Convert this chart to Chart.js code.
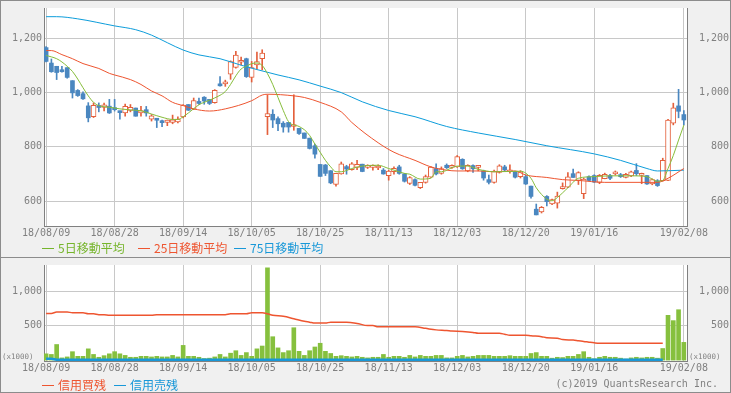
<!DOCTYPE html>
<html lang="ja">
<head>
<meta charset="utf-8">
<script src="https://cdn.jsdelivr.net/npm/chart.js@4.4.1/dist/chart.umd.min.js"></script>
<style>
  body { margin: 0; }
  #wrap { position: relative; width: 731px; height: 393px; background: #f0f0f0; overflow: hidden; }
  #wrap canvas { position: absolute; left: 0; }
  #frame { position: absolute; left: 0; top: 0; width: 731px; height: 393px; box-sizing: border-box; border: 1px solid #8c8c8c; pointer-events: none; }
  .sep { position: absolute; left: 0; top: 257px; width: 731px; height: 1px; background: #8c8c8c; }
  .lg { position: absolute; font: 12px/14px "Noto Sans CJK JP", sans-serif; white-space: nowrap; }
  .lg i { display: inline-block; width: 12px; height: 0; border-top: 1px solid currentColor; vertical-align: middle; margin-right: 4px; position: relative; top: -1px; }
  .mono { position: absolute; font: 10px/12px "DejaVu Sans Mono", monospace; color: #808080; white-space: nowrap; }
  .unit { position: absolute; font: 7.5px/9px "DejaVu Sans Mono", monospace; color: #808080; white-space: nowrap; }
</style>
</head>
<body>
<div id="wrap">
  <canvas id="priceChart" width="731" height="257" style="top:0"></canvas>
  <canvas id="volChart" width="731" height="135" style="top:257px"></canvas>
  <div class="sep"></div>

  <div class="lg" style="left:42px; top:241px; color:#76b52c"><i></i>5日移動平均</div>
  <div class="lg" style="left:138px; top:241px; color:#ee5530"><i></i>25日移動平均</div>
  <div class="lg" style="left:234px; top:241px; color:#1898d8"><i></i>75日移動平均</div>

  <div class="unit" style="left:2px; top:352px">(x1000)</div>
  <div class="unit" style="left:689px; top:352px">(x1000)</div>

  <div class="lg" style="left:42px; top:378px; color:#ee5530"><i></i>信用買残</div>
  <div class="lg" style="left:114px; top:378px; color:#1898d8"><i></i>信用売残</div>
  <div class="mono" style="right:13px; top:378px">(c)2019 QuantsResearch Inc.</div>

  <div id="frame"></div>
</div>
<script>
// 日付軸（営業日の通し番号）
const tickIndex = [0, 13, 26, 39, 52, 65, 78, 91, 104, 121];
const tickLabels = ['18/08/09', '18/08/28', '18/09/14', '18/10/05', '18/10/25',
                    '18/11/13', '18/12/03', '18/12/20', '19/01/16', '19/02/08'];
const priceTicks = [600, 800, 1000, 1200];
const volumeTicks = [500, 1000];

// ローソク足
const opens = [
  1166,1109,1097,1084,1092,1044,1008,996,951,911,
  948,945,950,941,929,925,934,943,925,937,
  902,900,891,890,890,892,910,956,939,966,
  983,975,963,1029,1032,1068,1093,1112,1125,1056,
  1102,1125,911,920,904,887,890,875,868,851,
  832,804,735,733,712,661,700,727,716,724,
  736,724,724,722,714,694,708,726,700,665,
  679,649,669,688,720,702,732,724,726,754,
  711,731,724,711,679,669,706,726,708,708,
  690,690,655,570,560,617,589,592,646,651,
  701,676,627,690,694,669,683,694,700,696,
  687,693,713,695,694,663,675,675,676,887,
  951,919
];
const highs = [
  1170,1124,1097,1097,1092,1044,1011,1003,963,962,
  962,961,975,975,932,958,956,943,949,949,
  919,905,899,899,917,911,956,956,980,980,
  985,975,1011,1059,1046,1117,1152,1131,1127,1115,
  1149,1158,992,937,911,893,890,992,868,851,
  832,810,735,735,712,702,744,732,742,750,
  736,734,734,734,720,714,726,732,702,690,
  682,669,696,727,737,726,737,734,768,756,
  734,734,731,714,696,714,734,732,734,710,
  712,696,655,589,580,620,607,633,667,705,
  718,708,684,693,697,698,703,699,711,702,
  702,711,738,703,694,682,679,758,901,961,
  1012,934
];
const lows = [
  1113,1075,1048,1075,1053,980,986,975,892,908,
  929,932,923,932,902,913,929,913,913,913,
  895,871,874,878,885,888,907,934,937,956,
  957,956,961,1024,1023,1049,1090,1102,1056,1039,
  1086,1084,845,871,860,854,854,861,846,831,
  792,758,691,694,664,655,699,699,714,716,
  708,720,714,716,699,677,699,699,670,661,
  656,646,666,687,696,699,720,720,724,717,
  708,706,711,677,663,666,703,711,703,685,
  685,661,611,549,556,582,587,574,644,649,
  687,661,609,674,668,664,682,679,696,687,
  685,690,694,664,661,660,654,673,675,881,
  907,881
];
const closes = [
  1115,1077,1074,1077,1056,999,989,977,907,953,
  945,955,925,937,926,949,946,913,934,925,
  914,898,889,899,900,902,954,935,971,960,
  969,960,1008,1025,1040,1114,1138,1119,1059,1092,
  1114,1146,923,899,885,873,873,880,849,831,
  794,773,691,702,667,702,737,718,737,735,
  709,731,728,728,700,711,721,702,673,687,
  658,669,690,725,700,720,723,731,764,719,
  732,719,728,685,669,711,730,715,714,688,
  708,663,617,549,577,598,605,618,653,689,
  687,705,681,676,670,695,699,684,706,690,
  699,708,701,700,663,679,657,750,899,944,
  931,899
];

// 移動平均（図から読み取った点）
const ma5Idx = [0,2,3,4,5,6,7,8,9,10,12,14,16,18,20,22,24,25,26,27,29,31,33,34,35,36,37,38,39,40,
  41,42,43,44,45,46,48,49,50,51,52,53,54,55,56,58,60,63,65,66,68,69,71,73,74,75,78,80,82,85,
  90,92,93,95,96,97,99,101,104,107,111,114,116,117,118,119,120,121];
const ma5Val = [1137,1125,1113,1097,1078,1050,1018,988,964,952,946,940,936,933,921,909,901,901,911,925,
  955,972,990,1004,1030,1062,1087,1097,1107,1109,1100,1070,1030,982,934,893,875,863,842,810,
  780,750,726,708,708,720,729,732,720,714,702,699,681,684,708,708,729,729,717,708,
  710,684,649,607,601,613,649,684,690,693,693,690,673,676,720,768,825,880];
const ma25Idx = [0,1,3,5,7,10,12,13,16,18,20,22,24,26,28,31,34,39,41,42,47,49,52,56,58,63,66,70,73,76,
  78,82,85,89,91,95,98,101,106,116,118,121];
const ma25Val = [1155,1155,1140,1125,1107,1089,1071,1065,1048,1030,1006,988,964,952,940,932,940,970,991,994,
  988,982,964,929,890,815,780,750,726,714,711,711,708,711,696,687,679,676,669,669,684,720];
const ma75Idx = [0,2,6,13,17,20,23,26,29,33,37,40,44,48,52,56,60,65,70,76,82,89,95,104,109,114,116,121];
const ma75Val = [1280,1280,1272,1246,1232,1212,1184,1157,1139,1125,1101,1085,1065,1047,1024,1000,966,934,911,875,
  851,827,804,774,750,720,711,714];

// 出来高 (x1000)
const volumes = [
  91,82,226,32,46,122,55,55,163,82,
  41,64,91,122,91,68,41,41,55,55,
  46,55,46,46,68,46,213,55,55,41,
  23,28,46,82,46,100,136,68,109,55,
  163,204,1337,339,177,109,136,469,127,68,
  136,190,244,127,96,55,64,55,46,55,
  41,32,41,41,82,41,55,55,41,68,
  46,68,55,55,68,68,32,32,55,68,
  46,55,68,68,68,55,55,55,64,55,
  55,55,96,109,55,55,28,41,37,55,
  55,82,122,41,19,41,55,41,41,28,
  15,32,41,32,41,41,28,168,649,572,
  730,257
];

// 信用残 (x1000)
const marginBuyIdx = [0,1,2,4,5,7,8,9,10,11,12,20,21,34,35,38,39,41,42,43,45,47,49,50,51,53,54,57,59,61,
  62,63,70,72,74,76,77,79,81,82,86,87,88,91,92,94,95,97,98,100,101,102,103,104,105,117];
const marginBuyVal = [676,676,698,698,685,685,671,671,658,658,649,649,658,658,671,671,685,685,671,649,
  635,600,563,550,536,536,550,550,532,500,500,482,482,460,438,428,420,415,401,388,
  388,375,361,361,352,340,325,318,298,290,280,271,260,250,244,244];
const marginSellIdx = [0, 1, 2, 117];
const marginSellVal = [18, 18, 5, 5];

// 色・フォント
const UP = '#e4603c';
const DOWN = '#4a87c0';
const GRID = '#c8c8c8';
const AXIS = '#808080';
const TXT = '#808080';
const MONO = { family: 'DejaVu Sans Mono', size: 10 };

const toXY = (idx, vals) => idx.map((x, k) => ({ x: x, y: vals[k] }));

// 陽線・陰線に分ける
const upBody = [], downBody = [], upWick = [], downWick = [];
opens.forEach((o, i) => {
  const c = closes[i];
  const wick = { x: i, y: [lows[i], highs[i]] };
  if (c >= o) {
    upBody.push({ x: i, y: [o, c] });
    upWick.push(wick);
  } else {
    downBody.push({ x: i, y: [c, o] });
    downWick.push(wick);
  }
});

// プロット領域を白く塗る
const plotBg = {
  id: 'plotBg',
  beforeDraw(chart) {
    const { ctx, chartArea: a } = chart;
    ctx.save();
    ctx.fillStyle = '#ffffff';
    ctx.fillRect(a.left, a.top, a.right - a.left, a.bottom - a.top);
    ctx.restore();
  }
};

function dateAxis() {
  return {
    type: 'linear',
    min: -0.4,
    max: 121.6,
    offset: false,
    afterBuildTicks: s => { s.ticks = tickIndex.map(v => ({ value: v })); },
    afterFit: s => { s.height = 31; },
    ticks: {
      autoSkip: false, maxRotation: 0, padding: 1, color: TXT, font: MONO,
      callback: v => tickLabels[tickIndex.indexOf(v)]
    },
    grid: { color: GRID, drawTicks: false, offset: false },
    border: { color: AXIS }
  };
}

function valueAxis(pos, min, max, ticks) {
  return {
    type: 'linear',
    position: pos,
    min: min,
    max: max,
    afterBuildTicks: s => { s.ticks = ticks.map(v => ({ value: v })); },
    afterFit: s => { s.width = pos === 'left' ? 44 : 42; },
    ticks: {
      padding: 2, color: TXT, font: MONO,
      crossAlign: pos === 'left' ? 'near' : 'far',
      callback: v => v.toLocaleString('en-US')
    },
    grid: { color: GRID, drawTicks: false, drawOnChartArea: pos === 'left' },
    border: { color: AXIS }
  };
}

function lineSet(data, color, width) {
  return {
    type: 'line', data: data, borderColor: color, borderWidth: width,
    pointRadius: 0, cubicInterpolationMode: 'monotone', order: 0
  };
}

const baseOptions = {
  responsive: false,
  animation: false,
  layout: { padding: { top: 1, right: 2 } },
  plugins: { legend: { display: false }, tooltip: { enabled: false } }
};

// 株価チャート
new Chart(document.getElementById('priceChart'), {
  type: 'bar',
  data: {
    datasets: [
      lineSet(toXY(ma5Idx, ma5Val), '#86bd3a', 1),
      lineSet(toXY(ma25Idx, ma25Val), '#ee5530', 1),
      lineSet(toXY(ma75Idx, ma75Val), '#0d9ddb', 1),
      { data: upBody, backgroundColor: '#ffffff', borderColor: UP, borderWidth: 1,
        borderSkipped: false, barThickness: 5, minBarLength: 2, grouped: false, order: 1 },
      { data: downBody, backgroundColor: DOWN, borderWidth: 0,
        barThickness: 4, minBarLength: 2, grouped: false, order: 1 },
      { data: upWick, backgroundColor: UP, borderWidth: 0,
        barThickness: 1, grouped: false, order: 2 },
      { data: downWick, backgroundColor: DOWN, borderWidth: 0,
        barThickness: 1, grouped: false, order: 2 }
    ]
  },
  options: Object.assign({}, baseOptions, {
    scales: {
      x: dateAxis(),
      y: valueAxis('left', 508, 1312, priceTicks),
      y2: valueAxis('right', 508, 1312, priceTicks)
    }
  }),
  plugins: [plotBg]
});

// 出来高・信用残チャート
new Chart(document.getElementById('volChart'), {
  type: 'bar',
  data: {
    datasets: [
      lineSet(toXY(marginBuyIdx, marginBuyVal), '#ee5530', 1.5),
      lineSet(toXY(marginSellIdx, marginSellVal), '#1898d8', 2.5),
      { data: volumes.map((v, i) => ({ x: i, y: v })), backgroundColor: '#86c03e',
        borderWidth: 0, barThickness: 4, grouped: false, order: 1 }
    ]
  },
  options: Object.assign({}, baseOptions, {
    scales: {
      x: dateAxis(),
      y: valueAxis('left', -13, 1378, volumeTicks),
      y2: valueAxis('right', -13, 1378, volumeTicks)
    }
  }),
  plugins: [plotBg]
});
</script>
</body>
</html>
